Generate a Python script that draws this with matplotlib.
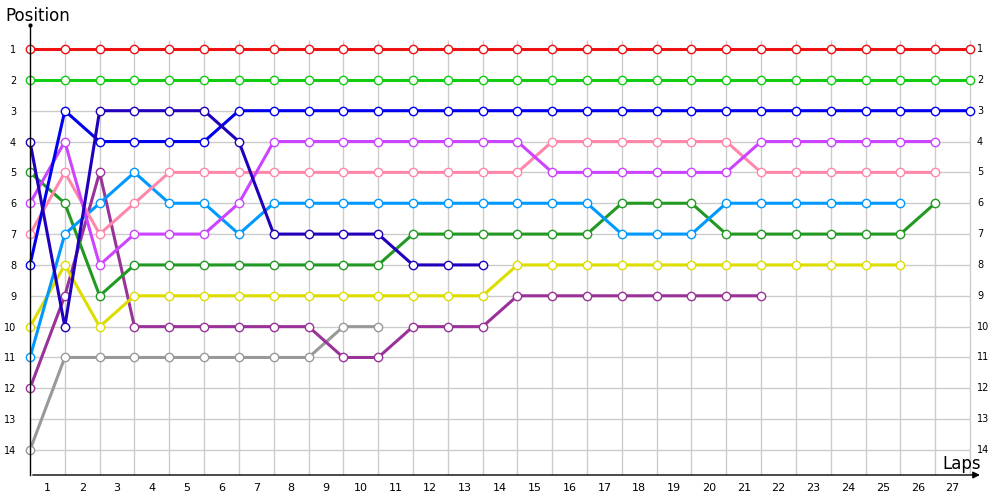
import matplotlib
matplotlib.use('Agg')
import matplotlib.pyplot as plt

# позиции по кругам (индекс 0 = старт)
red = [1] * 28
green = [2] * 28
blue = [8, 3, 4, 4, 4, 4, 3] + [3] * 21
navy = [4, 10, 3, 3, 3, 3, 4, 7, 7, 7, 7, 8, 8, 8]
violet = [6, 4, 8, 7, 7, 7, 6] + [4] * 8 + [5] * 6 + [4] * 6
pink = [7, 5, 7, 6] + [5] * 11 + [4] * 6 + [5] * 6
skyblue = [11, 7, 6, 5, 6, 6, 7] + [6] * 10 + [7, 7, 7] + [6] * 6
dkgreen = [5, 6, 9] + [8] * 8 + [7] * 6 + [6, 6, 6] + [7] * 6 + [6]
yellow = [10, 8, 10] + [9] * 11 + [8] * 12
purple = [12, 9, 5] + [10] * 6 + [11, 11, 10, 10, 10] + [9] * 8
gray = [14] + [11] * 8 + [10, 10]

series = [
    (red, '#ee1111'),
    (green, '#11cc11'),
    (gray, '#999999'),
    (purple, '#993399'),
    (yellow, '#dddd00'),
    (dkgreen, '#229922'),
    (skyblue, '#0099ff'),
    (pink, '#ff88aa'),
    (violet, '#cc44ff'),
    (blue, '#0000ee'),
    (navy, '#2200bb'),
]

laps = list(range(1, 28))
positions = list(range(1, 15))

fig = plt.figure(figsize=(10, 5), dpi=100)
ax = fig.add_axes([0.03, 0.05, 0.948, 0.90])
ax.set_xlim(0, 27.23)
ax.set_ylim(14.81, 0.222)

# сетка
ax.hlines(positions, 0, 27, color='#cccccc', lw=1, zorder=0)
ax.vlines(laps, 0.71, 14.81, color='#cccccc', lw=1, zorder=0)

for vals, col in series:
    ax.plot(range(len(vals)), vals, '-', color=col, lw=2.2, marker='o',
            markersize=6, markerfacecolor='white', markeredgecolor=col,
            markeredgewidth=1.0, clip_on=False)

for s in ['top', 'right', 'bottom']:
    ax.spines[s].set_visible(False)
ax.spines['left'].set_linewidth(1)
ax.plot([0], [0.222], 'k.', markersize=4, clip_on=False)
ax.annotate('', xy=(1.005, 0), xytext=(0, 0), xycoords='axes fraction',
            arrowprops=dict(arrowstyle='-|>', color='black', lw=1,
                            mutation_scale=10))

ax.set_xticks([l - 0.5 for l in laps])
ax.set_xticklabels([str(l) for l in laps], fontsize=8)
ax.set_yticks(positions)
ax.set_yticklabels([str(p) for p in positions], fontsize=7)
ax.tick_params(axis='both', length=0)
ax.tick_params(axis='x', pad=6)
ax.tick_params(axis='y', pad=10)
for p in positions:
    ax.text(27.2, p, str(p), fontsize=7, ha='left', va='center')

fig.text(0.005, 0.968, 'Position', fontsize=12, ha='left', va='center')
fig.text(0.942, 0.072, 'Laps', fontsize=12, ha='left', va='center')

fig.savefig('out.png', dpi=100)
